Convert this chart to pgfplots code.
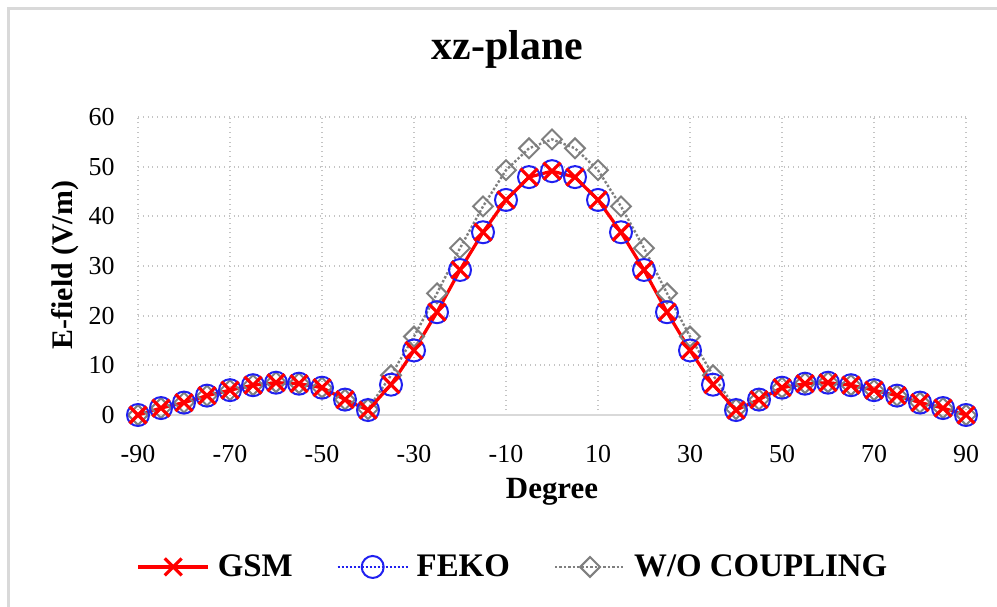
\documentclass[border=0pt]{standalone}
\usepackage{pgfplots}
\pgfplotsset{compat=1.18}
\usepackage{fontspec}
\setmainfont{Liberation Serif}

\definecolor{gsmred}{HTML}{FF0000}
\definecolor{fekoblue}{HTML}{2020F0}
\definecolor{wogray}{HTML}{7F7F7F}
\definecolor{gridgray}{HTML}{C4C4C4}
\definecolor{framegray}{HTML}{D9D9D9}

% Radiation pattern in the xz-plane, E-field magnitude vs angle
\pgfplotstableread{
deg  gsm   feko  wo
-90  0.0   0.0   0.0
-85  1.4   1.4   1.4
-80  2.5   2.5   2.5
-75  3.9   3.9   3.9
-70  5.0   5.0   5.0
-65  6.0   6.0   6.0
-60  6.5   6.5   6.6
-55  6.3   6.3   6.4
-50  5.5   5.5   5.5
-45  3.1   3.1   3.1
-40  1.0   1.0   1.2
-35  6.1   6.1   8.0
-30  13.0  13.0  15.8
-25  20.7  20.7  24.5
-20  29.2  29.2  33.6
-15  36.8  36.8  42.0
-10  43.3  43.3  49.3
-5   47.9  47.9  53.7
0    49.1  49.1  55.5
5    47.9  47.9  53.7
10   43.3  43.3  49.3
15   36.8  36.8  42.0
20   29.2  29.2  33.6
25   20.7  20.7  24.5
30   13.0  13.0  15.8
35   6.1   6.1   8.0
40   1.0   1.0   1.2
45   3.1   3.1   3.1
50   5.5   5.5   5.5
55   6.3   6.3   6.4
60   6.5   6.5   6.6
65   6.0   6.0   6.0
70   5.0   5.0   5.0
75   3.9   3.9   3.9
80   2.5   2.5   2.5
85   1.4   1.4   1.4
90   0.0   0.0   0.0
}\datatable

\begin{document}
\begin{tikzpicture}
\useasboundingbox (0bp,0bp) rectangle (498.5bp,303.5bp);
% chart frame
\draw[framegray, line width=1.5bp] (4bp,-5bp) -- (4bp,299bp) -- (505bp,299bp);
\begin{axis}[
  at={(69bp,96bp)}, anchor=south west,
  scale only axis, width=414bp, height=149bp,
  xmin=-90, xmax=90, ymin=0, ymax=60,
  xtick={-90,-70,...,90}, ytick={0,10,...,60},
  clip=false,
  axis x line*=bottom, axis y line*=left,
  x axis line style={draw=framegray, line width=1.2bp, -},
  y axis line style={draw=none, -},
  major tick length=0pt,
  grid=major,
  grid style={dotted, draw=gridgray, line width=1bp},
  /pgf/number format/assume math mode=true,
  tick label style={font=\fontsize{13}{15}\selectfont, inner sep=0pt},
  xticklabel style={anchor=north, yshift=-15bp},
  yticklabel style={anchor=east, xshift=-11.5bp},
  title={\textbf{xz-plane}},
  title style={font=\fontsize{21}{25}\selectfont, at={(0.446,1.185)}, anchor=center, inner sep=0pt},
  xlabel={\textbf{Degree}},
  xlabel style={font=\fontsize{15.5}{18}\selectfont, at={(0.5,-0.258)}, anchor=center, inner sep=0pt},
  ylabel={\textbf{E-field (V/m)}},
  ylabel style={font=\fontsize{15}{18}\selectfont, at={(-0.088,0.503)}, anchor=center, inner sep=0pt},
  legend columns=3,
  reverse legend,
  legend style={at={(0.454,-0.51)}, anchor=center, draw=none, fill=none,
    font=\fontsize{16.5}{19}\selectfont\bfseries,
    /tikz/every even column/.append style={column sep=20bp},
    /tikz/every odd column/.append style={column sep=2bp}},
  legend image code/.code={\draw[mark repeat=2,mark phase=2]
    plot coordinates {(0bp,0bp) (17.5bp,0bp) (35bp,0bp)};},
]
\addplot[wogray, densely dotted, line width=1.2bp,
  mark=square, mark size=3.5bp,
  mark options={solid, rotate=45, line width=1bp}]
  table[x=deg, y=wo] {\datatable};
\addlegendentry{W/O COUPLING}
\addplot[fekoblue, densely dotted, line width=1bp,
  mark=o, mark size=5.5bp, mark options={solid, line width=1bp}]
  table[x=deg, y=feko] {\datatable};
\addlegendentry{FEKO}
\addplot[gsmred, line width=1.6bp,
  mark=x, mark size=6bp, mark options={solid, line width=1.6bp}]
  table[x=deg, y=gsm] {\datatable};
\addlegendentry{GSM}
\end{axis}
\end{tikzpicture}
\end{document}
